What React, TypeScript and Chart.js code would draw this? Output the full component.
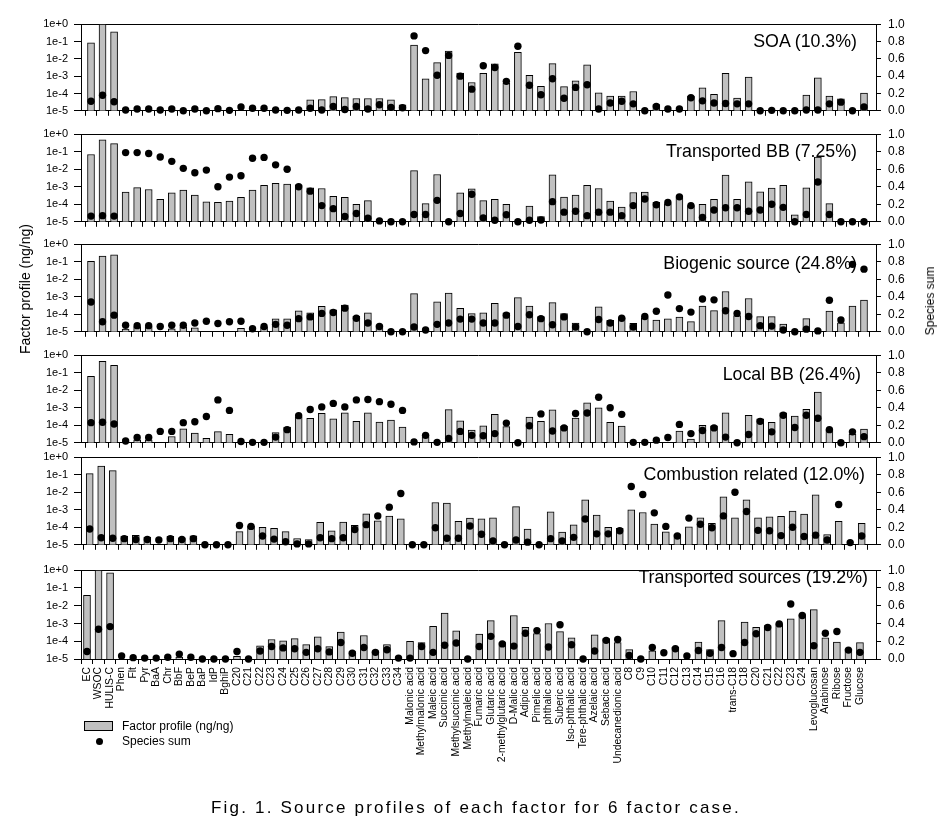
import React, { useEffect, useRef } from 'react';
import { Chart, registerables } from 'chart.js';

Chart.register(...registerables);

const categories = [
  'EC', 'WSOC', 'HULIS-C',
  'Phen', 'Flt', 'Pyr', 'BaA', 'Chr', 'BbF', 'BeP', 'BaP', 'IdP', 'BghiP',
  'C20', 'C21', 'C22', 'C23', 'C24', 'C25', 'C26', 'C27', 'C28', 'C29', 'C30', 'C31', 'C32', 'C33', 'C34',
  'Malonic acid', 'Methylmalonic acid', 'Maleic acid', 'Succinic acid', 'Methylsuccinic acid', 'Methylmaleic acid',
  'Fumaric acid', 'Glutaric acid', '2-methylglutaric acid', 'D-Malic acid', 'Adipic acid', 'Pimelic acid',
  'phthalic acid', 'Suberic acid', 'Iso-phthalic acid', 'Tere-phthalic acid', 'Azelaic acid', 'Sebacic acid',
  'Undecanedionic acid',
  'C8', 'C9', 'C10', 'C11', 'C12', 'C13', 'C14', 'C15', 'C16', 'trans-C18', 'C18', 'C20', 'C21', 'C22', 'C23', 'C24',
  'Levoglucosan', 'Arabinose', 'Ribose', 'Fructose', 'Glucose',
];

const leftTickValues = [1e-5, 1e-4, 1e-3, 1e-2, 1e-1, 1];
const leftTickLabels = ['1e-5', '1e-4', '1e-3', '1e-2', '1e-1', '1e+0'];
const rightTickValues = [0, 0.2, 0.4, 0.6, 0.8, 1.0];
const rightTickLabels = ['0.0', '0.2', '0.4', '0.6', '0.8', '1.0'];

// ---- SOA (10.3%) ----
const soaProfile = [
  8.5e-2, 1, 3.6e-1,
  null, null, null, null, null, null, null, null, null, null,
  null, null, null, null, null, null, 4.3e-5, 4.4e-5, 6.6e-5, 5.8e-5, 5.1e-5, 5.1e-5, 5.1e-5, 4.3e-5, 2.2e-5,
  6.3e-2, 7e-4, 6e-3, 2.8e-2, 1.5e-3, 4.3e-4, 1.45e-3, 5.1e-3, 4e-4, 2.4e-2, 1.1e-3, 2.6e-4, 5.3e-3, 2.5e-4, 5.4e-4, 4.5e-3, 1.1e-4, 7e-5, 7e-5,
  1.3e-4, null, 2.3e-5, null, null, 7e-5, 2.1e-4, 9e-5, 1.45e-3, 5.4e-5, 8.8e-4, null, null, null, null, 8e-5,
  8e-4, 7e-5, 4.9e-5, null, 1.05e-4,
];
const soaSum = [
  0.11, 0.18, 0.105,
  0.01, 0.02, 0.02, 0.01, 0.02, 0.0, 0.02, 0.0, 0.025, 0.005,
  0.045, 0.03, 0.03, 0.01, 0.005, 0.01, 0.03, 0.01, 0.05, 0.015, 0.05, 0.02, 0.07, 0.04, 0.035,
  0.865, 0.695, 0.41, 0.64, 0.40, 0.25, 0.52, 0.50, 0.34, 0.745, 0.295, 0.185, 0.37, 0.145, 0.27, 0.30, 0.02, 0.09, 0.11,
  0.08, 0.0, 0.05, 0.02, 0.02, 0.15, 0.115, 0.09, 0.085, 0.08, 0.08, 0.0, 0.005, 0.0, 0.0, 0.01,
  0.01, 0.08, 0.1, 0.0, 0.045,
];

// ---- Transported BB (7.25%) ----
const tbbProfile = [
  6.9e-2, 4.7e-1, 2.9e-1,
  5e-4, 9e-4, 7e-4, 1.9e-4, 4.5e-4, 6.5e-4, 3.3e-4, 1.4e-4, 1.3e-4, 1.5e-4,
  2.5e-4, 6.5e-4, 1.2e-3, 1.55e-3, 1.4e-3, 1.3e-3, 8.7e-4, 8e-4, 2.8e-4, 2.5e-4, 1e-4, 1.6e-4, null, null, null,
  8.3e-3, 1.1e-4, 5e-3, null, 4.5e-4, 7.7e-4, 1.6e-4, 1.9e-4, 1e-4, null, 8e-5, 2e-5, 4.8e-3, 2.6e-4, 3.3e-4, 1.2e-3, 8e-4, 1.5e-4, 7e-5,
  4.7e-4, 5e-4, 1.3e-4, 1.1e-4, 2.4e-4, 8.3e-5, 1e-4, 1.9e-4, 4.6e-3, 1.9e-4, 1.9e-3, 5.2e-4, 8.3e-4, 1.2e-3, 2.5e-5, 8.7e-4,
  5e-2, 1.1e-4, null, null, null,
];
const tbbSum = [
  0.065, 0.07, 0.065,
  0.79, 0.79, 0.78, 0.74, 0.69, 0.61, 0.56, 0.59, 0.40, 0.51,
  0.525, 0.725, 0.735, 0.65, 0.60, 0.40, 0.35, 0.185, 0.15, 0.06, 0.095, 0.04, 0.01, 0.0, 0.0,
  0.083, 0.083, 0.245, 0.0, 0.095, 0.315, 0.045, 0.018, 0.08, 0.0, 0.018, 0.02, 0.23, 0.11, 0.12, 0.07, 0.11, 0.11, 0.07,
  0.185, 0.26, 0.195, 0.22, 0.285, 0.185, 0.05, 0.135, 0.16, 0.16, 0.12, 0.135, 0.2, 0.165, 0.0, 0.083,
  0.455, 0.083, 0.0, 0.0, 0.0,
];

// ---- Biogenic source (24.8%) ----
const bioProfile = [
  1.07e-1, 2.1e-1, 2.5e-1,
  1.45e-5, 2e-5, 2e-5, null, 1.5e-5, 1.9e-5, 1.7e-5, null, null, null,
  1.6e-5, null, 1.9e-5, 5.5e-5, 5.5e-5, 1.55e-4, 1.2e-4, 2.8e-4, 1.8e-4, 3.4e-4, 7.6e-5, 1.2e-4, 2.5e-5, null, null,
  1.5e-3, null, 5.2e-4, 1.6e-3, 2.2e-4, 1.1e-4, 1.2e-4, 4.2e-4, 1.2e-4, 8.9e-4, 2.9e-4, 7.4e-5, 4.6e-4, 1.1e-4, 3.1e-5, null, 2.7e-4, 4.5e-5, 6.5e-5,
  3e-5, 6.5e-5, 4.7e-5, 5.5e-5, 7e-5, 3.8e-5, 2.9e-4, 1.6e-4, 2e-3, 8.3e-5, 8e-4, 7.4e-5, 7.4e-5, 2.8e-5, null, 5.7e-5,
  null, 1.5e-4, 3.2e-5, 2.9e-4, 6.5e-4,
];
const bioSum = [
  0.34, 0.115, 0.19,
  0.075, 0.07, 0.07, 0.06, 0.075, 0.075, 0.1, 0.12, 0.095, 0.115,
  0.12, 0.035, 0.06, 0.085, 0.075, 0.15, 0.17, 0.21, 0.22, 0.27, 0.155, 0.1, 0.06, 0.0, 0.0,
  0.055, 0.02, 0.085, 0.1, 0.145, 0.145, 0.1, 0.1, 0.19, 0.06, 0.195, 0.15, 0.08, 0.17, 0.055, 0.0, 0.14, 0.1, 0.155,
  0.055, 0.175, 0.235, 0.42, 0.265, 0.225, 0.375, 0.365, 0.24, 0.21, 0.175, 0.07, 0.065, 0.02, 0.0, 0.03,
  0.01, 0.36, 0.135, 0.77, 0.715,
];

// ---- Local BB (26.4%) ----
const lbbProfile = [
  6.2e-2, 4.5e-1, 2.6e-1,
  null, 1.5e-5, 1.5e-5, null, 2.3e-5, 6.2e-5, 3.6e-5, 1.8e-5, 4.3e-5, 3e-5,
  null, null, null, 3.8e-5, 8e-5, 3e-4, 2.5e-4, 4.8e-4, 2.3e-4, 5.2e-4, 1.7e-4, 5.1e-4, 1.5e-4, 2e-4, 8e-5,
  null, 2.3e-5, null, 7.8e-4, 1.8e-4, 5.3e-5, 9.3e-5, 4.2e-4, 8.3e-5, null, 2.9e-4, 1.7e-4, 7.6e-4, 9e-5, 2.6e-4, 1.9e-3, 1e-3, 1.45e-4, 9e-5,
  null, null, null, null, 4.6e-5, 1.65e-5, 1e-4, 9.3e-5, 5.2e-4, null, 3.7e-4, 2.3e-4, 1.45e-4, 5.2e-4, 3.4e-4, 8.2e-4,
  7.9e-3, 5.7e-5, null, 3.1e-5, 6e-5,
];
const lbbSum = [
  0.23, 0.235, 0.215,
  0.02, 0.06, 0.06, 0.13, 0.13, 0.23, 0.24, 0.3, 0.49, 0.37,
  0.015, 0.005, 0.005, 0.065, 0.15, 0.31, 0.38, 0.41, 0.45, 0.41, 0.49, 0.495, 0.47, 0.44, 0.37,
  0.01, 0.085, 0.005, 0.05, 0.13, 0.085, 0.08, 0.105, 0.225, 0.0, 0.195, 0.33, 0.135, 0.17, 0.335, 0.34, 0.52, 0.4, 0.325,
  0.005, 0.005, 0.03, 0.06, 0.21, 0.105, 0.14, 0.17, 0.065, 0.0, 0.095, 0.245, 0.125, 0.315, 0.175, 0.315,
  0.28, 0.15, 0.0, 0.125, 0.07,
];

// ---- Combustion related (12.0%) ----
const combProfile = [
  1.15e-1, 3.1e-1, 1.7e-1,
  3.1e-5, 3.5e-5, 2.8e-5, null, 3e-5, 2.5e-5, 3.2e-5, null, null, null,
  5.7e-5, 1.2e-4, 1e-4, 8.7e-5, 5.7e-5, 2.3e-5, 2e-5, 1.9e-4, 6.2e-5, 2e-4, 1.3e-4, 5.9e-4, 2.3e-4, 4.4e-4, 3e-4,
  null, null, 2.6e-3, 2.4e-3, 2.2e-4, 3.3e-4, 3e-4, 3.5e-4, null, 1.5e-3, 8e-5, null, 7.6e-4, 5.3e-5, 1.4e-4, 3.7e-3, 5e-4, 1e-4, 8.7e-5,
  9.8e-4, 7e-4, 1.5e-4, 5.5e-5, 3.8e-5, 1.07e-4, 3.5e-4, 1.7e-4, 5.5e-3, 3.5e-4, 3.7e-3, 3.5e-4, 3.9e-4, 4.2e-4, 8.5e-4, 5.6e-4,
  7e-3, 3.8e-5, 2.2e-4, null, 1.7e-4,
];
const combSum = [
  0.18, 0.08, 0.075,
  0.07, 0.06, 0.06, 0.055, 0.07, 0.06, 0.07, 0.0, 0.0, 0.0,
  0.22, 0.21, 0.1, 0.065, 0.035, 0.01, 0.01, 0.08, 0.07, 0.08, 0.175, 0.23, 0.33, 0.43, 0.585,
  0.0, 0.0, 0.195, 0.075, 0.075, 0.215, 0.12, 0.045, 0.0, 0.055, 0.03, 0.0, 0.07, 0.045, 0.085, 0.295, 0.125, 0.125, 0.16,
  0.665, 0.575, 0.365, 0.21, 0.1, 0.305, 0.235, 0.195, 0.33, 0.6, 0.38, 0.165, 0.16, 0.105, 0.2, 0.095,
  0.11, 0.055, 0.46, 0.025, 0.1,
];

// ---- Transported sources (19.2%) ----
const tsProfile = [
  3.8e-2, 1, 7e-1,
  null, null, null, null, null, 1.3e-5, null, null, null, null,
  1.4e-5, null, 5.6e-5, 1.25e-4, 1.07e-4, 1.4e-4, 6.4e-5, 1.8e-4, 5e-5, 3.3e-4, 2.6e-5, 2.1e-4, 2.9e-5, 6.4e-5, null,
  1e-4, 8.5e-5, 7e-4, 3.8e-3, 3.9e-4, null, 2.5e-4, 1.45e-3, 8.5e-5, 2.8e-3, 6e-4, 2.7e-4, 1e-3, 3.5e-4, 1.55e-4, null, 2.3e-4, 1.4e-4, 8.3e-5,
  3.4e-5, null, 2.9e-5, null, 4.6e-5, null, 9e-5, 3.4e-5, 1.45e-3, null, 1.2e-3, 6e-4, 7.7e-4, 1e-3, 1.8e-3, 3.2e-3,
  6e-3, 1.55e-4, 9e-5, 3.5e-5, 8.3e-5,
];
const tsSum = [
  0.085, 0.335, 0.365,
  0.035, 0.015, 0.01, 0.01, 0.02, 0.055, 0.02, 0.0, 0.0, 0.0,
  0.085, 0.0, 0.09, 0.14, 0.125, 0.115, 0.075, 0.115, 0.08, 0.185, 0.065, 0.13, 0.075, 0.105, 0.01,
  0.01, 0.14, 0.075, 0.155, 0.18, 0.0, 0.14, 0.255, 0.17, 0.145, 0.29, 0.32, 0.135, 0.385, 0.16, 0.0, 0.09, 0.21, 0.22,
  0.04, 0.0, 0.13, 0.07, 0.115, 0.035, 0.095, 0.065, 0.13, 0.06, 0.185, 0.285, 0.355, 0.395, 0.62, 0.49,
  0.15, 0.29, 0.31, 0.1, 0.075,
];

const factorTitles = [
  'SOA (10.3%)',
  'Transported BB (7.25%)',
  'Biogenic source (24.8%)',
  'Local BB (26.4%)',
  'Combustion related (12.0%)',
  'Transported sources (19.2%)',
];

const FONT = '"Liberation Sans", Arial, Helvetica, sans-serif';

// layout of each panel (pixel frame positions)
const panelLayout = [
  { top: 22, bottom: 113, xMin: -0.867, xMax: 68.04, titleRight: 857, titleY: 41 },
  { top: 132, bottom: 224, xMin: -0.867, xMax: 68.04, titleRight: 857, titleY: 151 },
  { top: 242, bottom: 334, xMin: -0.867, xMax: 68.04, titleRight: 857, titleY: 263 },
  { top: 353, bottom: 445, xMin: -0.867, xMax: 68.04, titleRight: 861, titleY: 374 },
  { top: 455, bottom: 547, xMin: -0.755, xMax: 68.24, titleRight: 865, titleY: 474 },
  { top: 568, bottom: 659, xMin: -0.52, xMax: 68.39, titleRight: 868, titleY: 577 },
];

const profiles = [soaProfile, tbbProfile, bioProfile, lbbProfile, combProfile, tsProfile];
const sums = [soaSum, tbbSum, bioSum, lbbSum, combSum, tsSum];

const framePlugin = {
  id: 'frame',
  beforeDatasetsDraw(chart: any) {
    const { ctx, chartArea } = chart;
    ctx.save();
    ctx.strokeStyle = '#000';
    ctx.lineWidth = 1;
    ctx.beginPath();
    ctx.moveTo(Math.round(chartArea.left) - 0.5, Math.round(chartArea.top) + 0.5);
    ctx.lineTo(Math.round(chartArea.right) + 0.5, Math.round(chartArea.top) + 0.5);
    ctx.stroke();
    ctx.restore();
  },
};

function Panel({ index, showLabels }: { index: number; showLabels: boolean }) {
  const ref = useRef<HTMLCanvasElement>(null);
  const lay = panelLayout[index];
  const padTop = 12;
  const plotH = lay.bottom - lay.top;
  const canvasH = showLabels ? 250 : plotH + padTop + 12;
  const xAxisH = canvasH - padTop - plotH;

  useEffect(() => {
    if (!ref.current) return;
    const prof = profiles[index];
    const sum = sums[index];
    const chart = new Chart(ref.current, {
      type: 'bar',
      data: {
        datasets: [
          {
            type: 'line',
            label: 'Species sum',
            data: sum.map((v, i) => ({ x: i, y: v })),
            yAxisID: 'yR',
            showLine: false,
            pointRadius: 3.7,
            pointHoverRadius: 3.7,
            pointBackgroundColor: '#000',
            pointBorderColor: '#000',
            pointBorderWidth: 0,
            order: 0,
            clip: false,
          } as any,
          {
            type: 'bar',
            label: 'Factor profile (ng/ng)',
            data: prof.map((v, i) => ({ x: i, y: v })),
            yAxisID: 'yL',
            backgroundColor: '#c0c0c0',
            borderColor: '#000',
            borderWidth: 1,
            barThickness: 7,
            order: 1,
          } as any,
        ],
      },
      options: {
        animation: false,
        responsive: false,
        maintainAspectRatio: false,
        events: [],
        layout: { padding: { top: padTop, bottom: 0, left: 0, right: 0 }, autoPadding: false } as any,
        plugins: { legend: { display: false }, tooltip: { enabled: false } },
        scales: {
          x: {
            type: 'linear',
            position: 'bottom',
            min: lay.xMin,
            max: lay.xMax,
            offset: false,
            afterBuildTicks: (s: any) => {
              s.ticks = categories.map((_, i) => ({ value: i }));
            },
            afterFit: (s: any) => {
              s.height = xAxisH;
            },
            grid: { display: true, drawOnChartArea: false, drawTicks: true, tickLength: 5, tickColor: '#000', tickWidth: 1 },
            border: { display: true, color: '#000', width: 1 },
            ticks: {
              display: showLabels,
              autoSkip: false,
              minRotation: 90,
              maxRotation: 90,
              padding: 3,
              color: '#000',
              font: { family: FONT, size: 10.4 },
              callback: (v: any) => categories[v as number] ?? '',
            },
          } as any,
          yL: {
            type: 'logarithmic',
            position: 'left',
            min: 1e-5,
            max: 1,
            afterBuildTicks: (s: any) => {
              s.ticks = leftTickValues.map((v) => ({ value: v }));
            },
            afterFit: (s: any) => {
              s.width = 81;
            },
            grid: { display: true, drawOnChartArea: false, drawTicks: true, tickLength: 7, tickColor: '#000', tickWidth: 1 },
            border: { display: true, color: '#000', width: 1 },
            ticks: {
              autoSkip: false,
              padding: 6,
              color: '#000',
              font: { family: FONT, size: 11 },
              callback: (_v: any, i: number) => leftTickLabels[i],
            },
          } as any,
          yR: {
            type: 'linear',
            position: 'right',
            min: 0,
            max: 1,
            afterBuildTicks: (s: any) => {
              s.ticks = rightTickValues.map((v) => ({ value: v }));
            },
            afterFit: (s: any) => {
              s.width = 71;
            },
            grid: { display: true, drawOnChartArea: false, drawTicks: true, tickLength: 5, tickColor: '#000', tickWidth: 1 },
            border: { display: true, color: '#000', width: 1 },
            ticks: {
              autoSkip: false,
              padding: 7,
              color: '#000',
              font: { family: FONT, size: 12 },
              callback: (_v: any, i: number) => rightTickLabels[i],
            },
          } as any,
        },
      },
      plugins: [framePlugin],
    });
    return () => chart.destroy();
  }, [index, showLabels]);

  return (
    <>
      <canvas
        ref={ref}
        width={947}
        height={canvasH}
        style={{ position: 'absolute', left: 0, top: lay.top - padTop, width: 947, height: canvasH }}
      />
      <div
        style={{
          position: 'absolute',
          right: 947 - lay.titleRight,
          top: lay.titleY - 11,
          lineHeight: '22px',
          fontSize: 17.8,
          fontFamily: FONT,
          color: '#000',
          whiteSpace: 'nowrap',
        }}
      >
        {factorTitles[index]}
      </div>
    </>
  );
}

export default function App() {
  return (
    <div
      style={{
        position: 'absolute',
        left: 0,
        top: 0,
        width: 947,
        height: 838,
        background: '#fff',
        overflow: 'hidden',
        fontFamily: FONT,
      }}
    >
      {panelLayout.map((_, i) => (
        <Panel key={i} index={i} showLabels={i === panelLayout.length - 1} />
      ))}
      <div
        style={{
          position: 'absolute',
          left: 25,
          top: 289,
          transform: 'translate(-50%, -50%) rotate(-90deg)',
          fontSize: 14,
          whiteSpace: 'nowrap',
          color: '#000',
        }}
      >
        Factor profile (ng/ng)
      </div>
      <div
        style={{
          position: 'absolute',
          left: 930,
          top: 301,
          transform: 'translate(-50%, -50%) rotate(-90deg)',
          fontSize: 12,
          whiteSpace: 'nowrap',
          color: '#000',
        }}
      >
        Species sum
      </div>
      {/* legend */}
      <div
        style={{
          position: 'absolute',
          left: 84,
          top: 721,
          width: 29,
          height: 10,
          boxSizing: 'border-box',
          border: '1px solid #000',
          background: '#c0c0c0',
        }}
      />
      <div style={{ position: 'absolute', left: 122, top: 718, lineHeight: '16px', fontSize: 12, whiteSpace: 'nowrap' }}>
        Factor profile (ng/ng)
      </div>
      <div
        style={{
          position: 'absolute',
          left: 99 - 3.5,
          top: 741 - 3.5,
          width: 7,
          height: 7,
          borderRadius: '50%',
          background: '#000',
        }}
      />
      <div style={{ position: 'absolute', left: 122, top: 733, lineHeight: '16px', fontSize: 12, whiteSpace: 'nowrap' }}>
        Species sum
      </div>
      <div
        style={{
          position: 'absolute',
          left: 211,
          top: 797,
          lineHeight: '22px',
          fontSize: 17,
          letterSpacing: '2.2px',
          whiteSpace: 'nowrap',
          color: '#000',
        }}
      >
        Fig. 1. Source profiles of each factor for 6 factor case.
      </div>
    </div>
  );
}
